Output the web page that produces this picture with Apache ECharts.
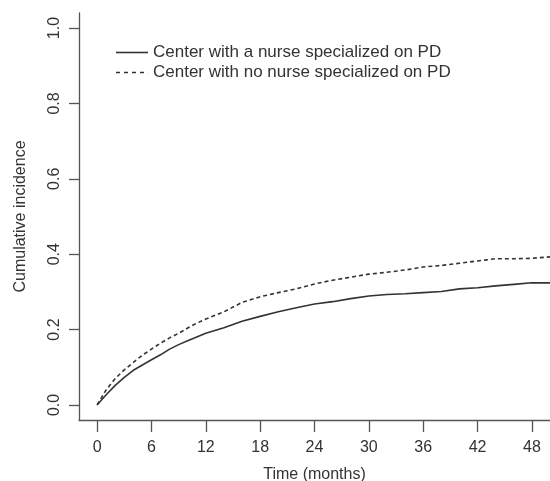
<!DOCTYPE html>
<html>
<head>
<meta charset="utf-8">
<script src="https://cdn.jsdelivr.net/npm/echarts@6/dist/echarts.min.js"></script>
<style>
html,body{margin:0;padding:0;background:#fff;}
#chart{width:550px;height:481px;}
</style>
</head>
<body>
<div id="chart"></div>
<script>
// Data
var months = [0,1,2,3,4,5,6,7,8,9,10,11,12,14,16,18,20,22,24,26,28,30,32,34,36,38,40,42,44,46,48,50];
var nurseVals = [0,0.027,0.052,0.073,0.092,0.106,0.120,0.133,0.148,0.160,0.170,0.180,0.190,0.205,0.222,0.235,0.247,0.258,0.268,0.274,0.282,0.289,0.293,0.295,0.298,0.301,0.308,0.311,0.316,0.320,0.324,0.324];
var noNurseVals = [0,0.040,0.070,0.093,0.113,0.132,0.148,0.164,0.178,0.190,0.204,0.217,0.228,0.247,0.272,0.287,0.298,0.308,0.321,0.331,0.339,0.347,0.352,0.358,0.366,0.370,0.376,0.382,0.388,0.388,0.389,0.393];
var xTicks = [0,6,12,18,24,30,36,42,48];
var yTicks = [0,0.2,0.4,0.6,0.8,1.0];
var seriesNames = ['Center with a nurse specialized on PD','Center with no nurse specialized on PD'];

function pairs(xs, ys){ return xs.map(function(x,i){ return [x, ys[i]]; }); }

var FONT = '"Liberation Sans", Arial, Helvetica, sans-serif';
var solidIcon = 'path://M0,0h32v1.6h-32z';
var dashIcon = 'path://M0,0h4v1.6h-4z M8,0h4v1.6h-4z M16,0h4v1.6h-4z M24,0h4v1.6h-4z M31.9,0h0.1v1.6h-0.1z';
var chart = echarts.init(document.getElementById('chart'), null, {renderer:'canvas'});
chart.setOption({
  animation:false,
  backgroundColor:'#fff',
  textStyle:{fontFamily:FONT},
  grid:{left:79, top:13, right:0, bottom:61, containLabel:false, outerBoundsMode:'none'},
  legend:{
    orient:'vertical', left:111, top:39,
    itemWidth:32, itemHeight:1.6, itemGap:3,
    textStyle:{fontFamily:FONT, fontSize:17, color:'#333', lineHeight:17},
    data:[
      {name:seriesNames[0], icon:solidIcon},
      {name:seriesNames[1], icon:dashIcon}
    ]
  },
  xAxis:{
    type:'value', min:-2, max:50,
    name:'Time (months)', nameLocation:'middle', nameGap:47,
    nameTextStyle:{fontFamily:FONT, fontSize:16, color:'#333'},
    axisLine:{show:true, onZero:false, lineStyle:{color:'#555', width:1.3}},
    axisTick:{show:true, length:12, customValues:xTicks, lineStyle:{color:'#555', width:1.3}},
    axisLabel:{customValues:xTicks, margin:20, fontFamily:FONT, fontSize:16, color:'#333'},
    splitLine:{show:false}
  },
  yAxis:{
    type:'value', min:-0.04, max:1.04,
    name:'Cumulative incidence', nameLocation:'middle', nameGap:50, nameRotate:90,
    nameTextStyle:{fontFamily:FONT, fontSize:16, color:'#333'},
    axisLine:{show:true, onZero:false, lineStyle:{color:'#555', width:1.3}},
    axisTick:{show:true, length:10, customValues:yTicks, lineStyle:{color:'#555', width:1.3}},
    axisLabel:{customValues:yTicks, rotate:90, margin:16, fontFamily:FONT, fontSize:16, color:'#333',
      formatter:function(v){ return Number(v).toFixed(1); }},
    splitLine:{show:false}
  },
  series:[
    {
      name:seriesNames[0], type:'line', symbol:'none', smooth:false,
      lineStyle:{color:'#333', width:1.6, type:'solid'},
      itemStyle:{color:'#333'},
      data:pairs(months, nurseVals)
    },
    {
      name:seriesNames[1], type:'line', symbol:'none', smooth:false,
      lineStyle:{color:'#333', width:1.6, type:[4,3]},
      itemStyle:{color:'#333'},
      data:pairs(months, noNurseVals)
    }
  ]
});
</script>
</body>
</html>
